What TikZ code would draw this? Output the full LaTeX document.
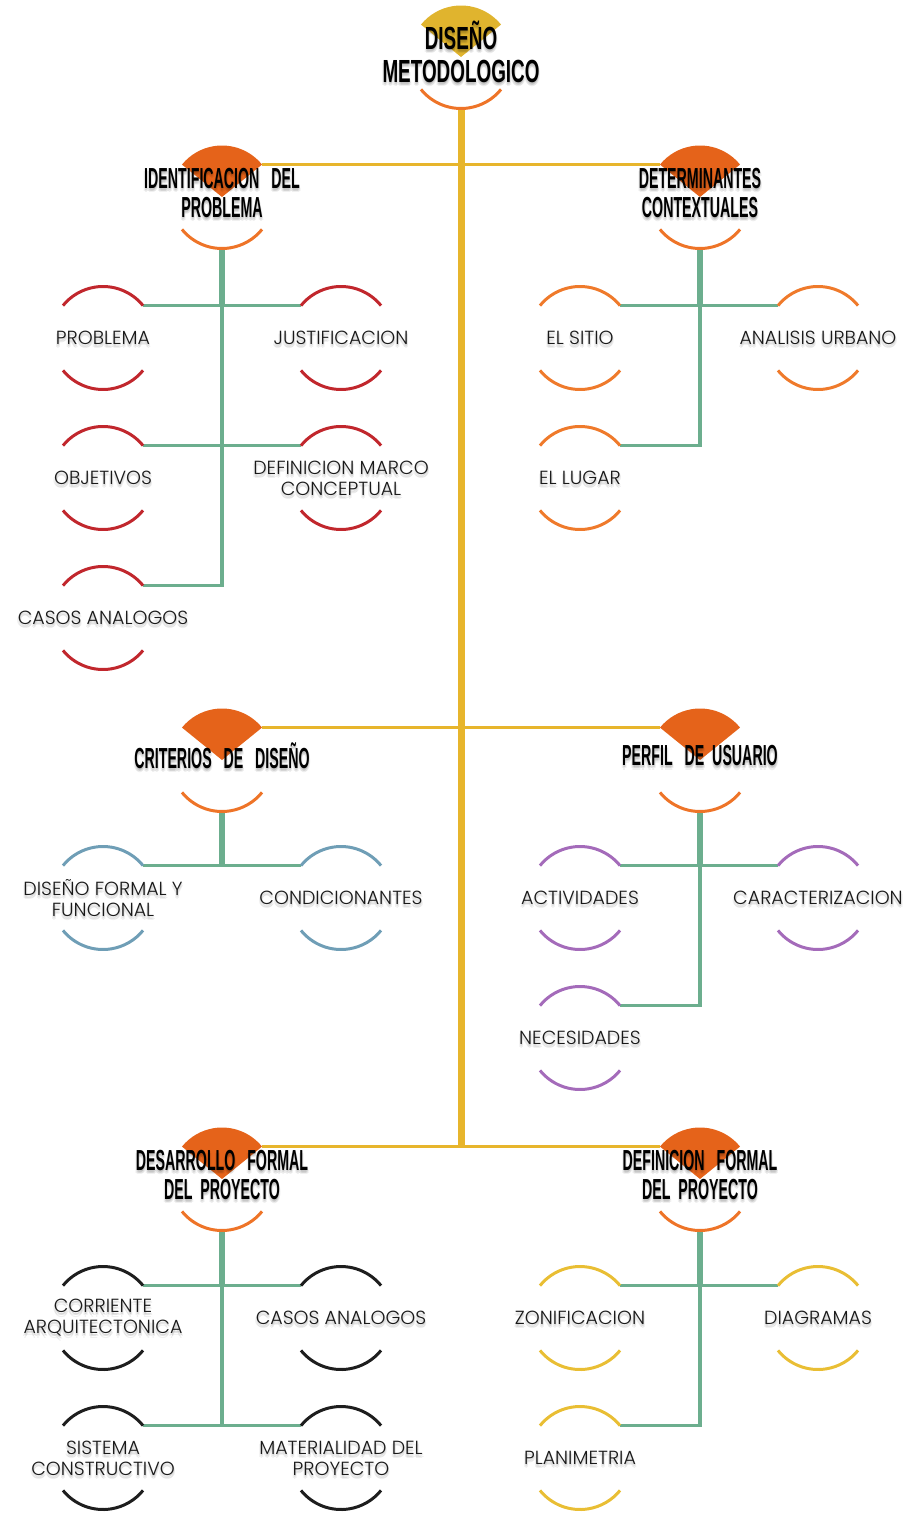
\documentclass[tikz,border=0pt]{standalone}
\usepackage{fontspec}
\usepackage{graphicx}
\setmainfont{Poppins}[UprightFont=* Light]
\newfontfamily\headfont{Liberation Sans}

\definecolor{gold}{HTML}{E7B52C}
\definecolor{mint}{HTML}{6CAE8E}
\definecolor{hdrorange}{HTML}{E5631A}
\definecolor{arcorange}{HTML}{EE7428}
\definecolor{titleyellow}{HTML}{E0B42E}
\definecolor{cred}{HTML}{C1272D}
\definecolor{corange}{HTML}{EF7A2B}
\definecolor{cblue}{HTML}{6F9EB6}
\definecolor{cpurple}{HTML}{A46BBA}
\definecolor{cblack}{HTML}{1E1E1E}
\definecolor{cyellow}{HTML}{E9BE34}

% two open arcs (top and bottom) around a ring node
\newcommand\leafarcs[2]{%
  \draw[arcline, draw=#2] (#1.39) arc[start angle=39, end angle=141, radius=51.5pt];
  \draw[arcline, draw=#2] (#1.-141) arc[start angle=-141, end angle=-39, radius=51.5pt];}
% filled top wedge and open bottom arc for a heading ring
\newcommand\headarcs[3]{%
  \fill[#2] (#1.center) -- (#1.39) arc[start angle=39, end angle=141, radius=51.5pt] -- cycle;
  \draw[arcline, draw=#3] (#1.-141) arc[start angle=-141, end angle=-39, radius=51.5pt];}
% text with a soft drop shadow
\newcommand\shtext[4]{%
  \foreach \dx/\dy [count=\k] in {0/-2, 1.3/-3, -1.3/-3, 0/-4.2, 0.8/-1.2}{%
    \node[#3, text=black, text opacity=0.06] (#1s\k) at ([shift={(\dx pt,\dy pt)}]#2) {#4};}%
  \node[#3] (#1t) at (#2) {#4};}
% condensed heading lettering
\newcommand\cond[1]{\scalebox{0.49}[1]{\begin{tabular}{@{}c@{}}#1\end{tabular}}}

\begin{document}
\begin{tikzpicture}[x=1pt, y=1pt,
  ring/.style={circle, minimum size=103pt, inner sep=0pt, outer sep=0pt},
  leaftext/.style={align=center, font=\fontsize{19}{21}\selectfont, text=black!90, inner sep=0pt},
  headtext/.style={align=center, font=\headfont\bfseries\fontsize{29}{28}\selectfont, text=black, inner sep=0pt},
  titletext/.style={align=center, font=\headfont\bfseries\fontsize{32}{33}\selectfont, text=black, inner sep=0pt},
  arcline/.style={line width=3pt},
  trunk/.style={draw=gold, line width=7pt},
  bar/.style={draw=gold, line width=3.5pt},
  stemthick/.style={draw=mint, line width=5.5pt},
  stem/.style={draw=mint, line width=3.5pt},
]
\useasboundingbox (0,0) rectangle (913,-1514);

% ---- rings ----
\node[ring] (t)  at (461,-57) {};
\node[ring] (h1) at (222,-197) {};
\node[ring] (h2) at (700,-197) {};
\node[ring] (h3) at (222,-760) {};
\node[ring] (h4) at (700,-760) {};
\node[ring] (h5) at (222,-1179) {};
\node[ring] (h6) at (700,-1179) {};

\node[ring] (a1) at (103,-338) {};
\node[ring] (a2) at (341,-338) {};
\node[ring] (a3) at (103,-478) {};
\node[ring] (a4) at (341,-478) {};
\node[ring] (a5) at (103,-618) {};

\node[ring] (b1) at (580,-338) {};
\node[ring] (b2) at (818,-338) {};
\node[ring] (b3) at (580,-478) {};

\node[ring] (c1) at (103,-898) {};
\node[ring] (c2) at (341,-898) {};

\node[ring] (d1) at (580,-898) {};
\node[ring] (d2) at (818,-898) {};
\node[ring] (d3) at (580,-1038) {};

\node[ring] (e1) at (103,-1318) {};
\node[ring] (e2) at (341,-1318) {};
\node[ring] (e3) at (103,-1458) {};
\node[ring] (e4) at (341,-1458) {};

\node[ring] (f1) at (580,-1318) {};
\node[ring] (f2) at (818,-1318) {};
\node[ring] (f3) at (580,-1458) {};

% ---- main trunk and bars ----
\draw[trunk] (t.south) -- (t.south |- h5.141);
\draw[bar] (h1.39) -- (h2.141);
\draw[bar] (h3.39) -- (h4.141);
\draw[bar] (h5.39) -- (h6.141);

% ---- branches ----
\draw[stemthick] (h1.south) -- (h1.south |- a1.39);
\draw[stem] (h1.south |- a1.39) |- (a5.39);
\draw[stem] (a1.39) -- (a2.141);
\draw[stem] (a3.39) -- (a4.141);

\draw[stemthick] (h2.south) -- (h2.south |- b1.39);
\draw[stem] (h2.south |- b1.39) |- (b3.39);
\draw[stem] (b1.39) -- (b2.141);

\draw[stemthick] (h3.south) -- (h3.south |- c1.39);
\draw[stem] (c1.39) -- (c2.141);

\draw[stemthick] (h4.south) -- (h4.south |- d1.39);
\draw[stem] (h4.south |- d1.39) |- (d3.39);
\draw[stem] (d1.39) -- (d2.141);

\draw[stemthick] (h5.south) -- (h5.south |- e1.39);
\draw[stem] (h5.south |- e1.39) -- (h5.south |- e3.39);
\draw[stem] (e1.39) -- (e2.141);
\draw[stem] (e3.39) -- (e4.141);

\draw[stemthick] (h6.south) -- (h6.south |- f1.39);
\draw[stem] (h6.south |- f1.39) |- (f3.39);
\draw[stem] (f1.39) -- (f2.141);

% ---- ring arcs ----
\headarcs{t}{titleyellow}{arcorange}
\foreach \h in {h1,h2,h3,h4,h5,h6}{\headarcs{\h}{hdrorange}{arcorange}}
\foreach \n in {a1,a2,a3,a4,a5}{\leafarcs{\n}{cred}}
\foreach \n in {b1,b2,b3}{\leafarcs{\n}{corange}}
\foreach \n in {c1,c2}{\leafarcs{\n}{cblue}}
\foreach \n in {d1,d2,d3}{\leafarcs{\n}{cpurple}}
\foreach \n in {e1,e2,e3,e4}{\leafarcs{\n}{cblack}}
\foreach \n in {f1,f2,f3}{\leafarcs{\n}{cyellow}}

% ---- texts ----
\shtext{t}{t}{titletext}{\scalebox{0.59}[1]{\begin{tabular}{@{}c@{}}DISEÑO\\METODOLOGICO\end{tabular}}}
\shtext{h1}{h1}{headtext}{\cond{IDENTIFICACION~~~DEL\\PROBLEMA}}
\shtext{h2}{h2}{headtext}{\cond{DETERMINANTES\\CONTEXTUALES}}
\shtext{h3}{h3}{headtext}{\cond{CRITERIOS~~~DE~~~DISEÑO}}
\shtext{h4}{h4}{headtext}{\cond{PERFIL~~~DE~~USUARIO}}
\shtext{h5}{h5}{headtext}{\cond{DESARROLLO~~~FORMAL\\DEL~~PROYECTO}}
\shtext{h6}{h6}{headtext}{\cond{DEFINICION~~~FORMAL\\DEL~~PROYECTO}}

\shtext{a1}{a1}{leaftext}{PROBLEMA}
\shtext{a2}{a2}{leaftext}{JUSTIFICACION}
\shtext{a3}{a3}{leaftext}{OBJETIVOS}
\shtext{a4}{a4}{leaftext}{DEFINICION MARCO\\CONCEPTUAL}
\shtext{a5}{a5}{leaftext}{CASOS ANALOGOS}

\shtext{b1}{b1}{leaftext}{EL SITIO}
\shtext{b2}{b2}{leaftext}{ANALISIS URBANO}
\shtext{b3}{b3}{leaftext}{EL LUGAR}

\shtext{c1}{c1}{leaftext}{DISEÑO FORMAL Y\\FUNCIONAL}
\shtext{c2}{c2}{leaftext}{CONDICIONANTES}

\shtext{d1}{d1}{leaftext}{ACTIVIDADES}
\shtext{d2}{d2}{leaftext}{CARACTERIZACION}
\shtext{d3}{d3}{leaftext}{NECESIDADES}

\shtext{e1}{e1}{leaftext}{CORRIENTE\\ARQUITECTONICA}
\shtext{e2}{e2}{leaftext}{CASOS ANALOGOS}
\shtext{e3}{e3}{leaftext}{SISTEMA\\CONSTRUCTIVO}
\shtext{e4}{e4}{leaftext}{MATERIALIDAD DEL\\PROYECTO}

\shtext{f1}{f1}{leaftext}{ZONIFICACION}
\shtext{f2}{f2}{leaftext}{DIAGRAMAS}
\shtext{f3}{f3}{leaftext}{PLANIMETRIA}
\end{tikzpicture}
\end{document}
